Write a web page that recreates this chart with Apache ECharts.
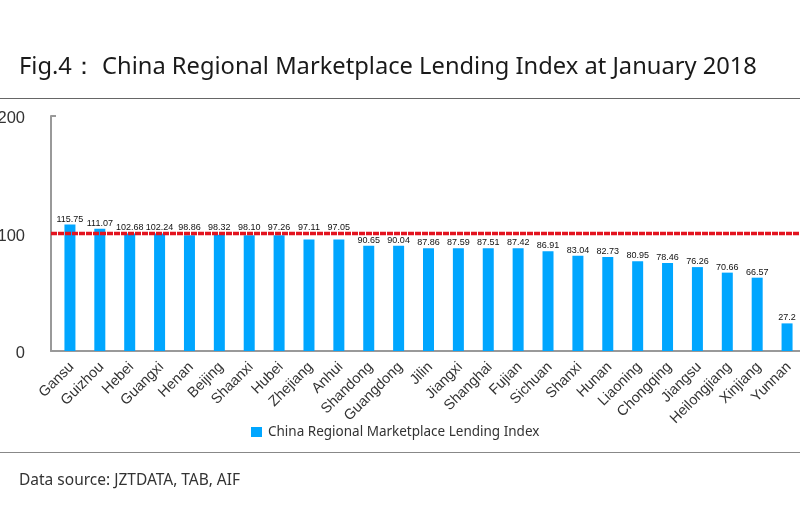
<!DOCTYPE html>
<html lang="en">

<head>
    <meta charset="UTF-8">
    <title>China Regional Marketplace Lending Index</title>
    <script type="text/javascript" src="https://cdn.jsdelivr.net/npm/echarts@6/dist/echarts.min.js"></script>
    <style>
        html, body {
            margin: 0;
            background-color: #fff;
            overflow: hidden;
        }
    </style>
</head>

<body>
    <div style="width: 800px; height: 529px" id="container"></div>
</body>
<script>
    var dom = document.getElementById("container");
    var myChart = echarts.init(dom);

    let categories = ['Gansu', 'Guizhou', 'Hebei', 'Guangxi', 'Henan', 'Beijing', 'Shaanxi', 'Hubei', 'Zhejiang', 'Anhui',
        'Shandong', 'Guangdong', 'Jilin', 'Jiangxi', 'Shanghai', 'Fujian', 'Sichuan', 'Shanxi', 'Hunan', 'Liaoning',
        'Chongqing', 'Jiangsu', 'Heilongjiang', 'Xinjiang', 'Yunnan'];
    // printed numbers, as they stand above the bars
    let printedValues = ['115.75', '111.07', '102.68', '102.24', '98.86', '98.32', '98.10', '97.26', '97.11', '97.05',
        '90.65', '90.04', '87.86', '87.59', '87.51', '87.42', '86.91', '83.04', '82.73', '80.95',
        '78.46', '76.26', '70.66', '66.57', '27.2'];
    // bar heights measured against the axis: in the source they sit a bit below the printed numbers
    let barHeights = [107.6, 104, 100, 100, 98.5, 99, 98.5, 98.5, 95, 95,
        89.5, 89.5, 87.5, 87.5, 87.5, 87.5, 85, 81, 80, 76.3,
        74.8, 71.4, 66.7, 62.4, 23.5];
    let refValue = 100;
    let seriesName = 'China Regional Marketplace Lending Index';

    // labels of bars just under the red line are lifted clear of it
    let barData = barHeights.map(function (v) {
        let gap = (v > 90 && v < refValue) ? 1 + (refValue - v) * 1.175 : 1;
        return { value: v, label: { distance: gap } };
    });

    var option = {
        backgroundColor: '#fff',
        animation: false,
        title: [{
            text: 'Fig.4\uff1a China Regional Marketplace Lending Index at January 2018',
            left: 19,
            top: 50,
            padding: 0,
            textStyle: {
                fontFamily: 'Noto Sans',
                fontSize: 23.7,
                lineHeight: 34,
                fontWeight: 'normal',
                color: '#1a1a1a'
            }
        }, {
            text: 'Data source: JZTDATA, TAB, AIF',
            left: 19,
            top: 472,
            padding: 0,
            textStyle: {
                fontFamily: 'Noto Sans',
                fontSize: 15.5,
                lineHeight: 18,
                fontWeight: 'normal',
                color: '#333'
            }
        }],
        legend: {
            data: [seriesName],
            left: 251,
            top: 425,
            padding: 0,
            itemWidth: 11,
            itemHeight: 10,
            itemGap: 6,
            icon: 'rect',
            textStyle: {
                fontFamily: 'Noto Sans',
                fontSize: 13.5,
                color: '#333',
                padding: [0, 0, 0, 1]
            }
        },
        graphic: [{
            type: 'line',
            shape: { x1: 0, y1: 98.5, x2: 800, y2: 98.5 },
            style: { stroke: '#666', lineWidth: 1 }
        }, {
            type: 'line',
            shape: { x1: 0, y1: 452.5, x2: 800, y2: 452.5 },
            style: { stroke: '#888', lineWidth: 1 }
        }],
        grid: [
            // bars start a few px to the right of the y axis
            { left: 55, right: -2, top: 116, height: 235, outerBoundsMode: 'none' },
            { left: 51, right: 0, top: 116, height: 235, outerBoundsMode: 'none' }
        ],
        xAxis: [{
            type: 'category',
            gridIndex: 0,
            data: categories,
            axisLine: { show: false },
            axisTick: { show: false },
            axisLabel: {
                interval: 0,
                rotate: 45,
                margin: 12,
                fontFamily: 'Liberation Sans',
                fontSize: 14.5,
                color: '#333',
                formatter: '{cat|{value}}',
                rich: {
                    cat: {
                        fontFamily: 'Liberation Sans',
                        fontSize: 14.5,
                        color: '#333',
                        padding: [5, 0, 0, 0]
                    }
                }
            }
        }, {
            type: 'value',
            gridIndex: 1,
            min: 0,
            max: 1,
            axisLine: { show: true, lineStyle: { color: '#999', width: 2 } },
            axisTick: { show: false },
            axisLabel: { show: false },
            splitLine: { show: false }
        }],
        yAxis: [{
            type: 'value',
            gridIndex: 0,
            min: 0,
            max: 200,
            show: false
        }, {
            type: 'value',
            gridIndex: 1,
            min: 0,
            max: 200,
            interval: 100,
            axisLine: { show: true, lineStyle: { color: '#999', width: 2 } },
            axisTick: { show: true, inside: true, length: 5, lineStyle: { color: '#999', width: 2 } },
            splitLine: { show: false },
            axisLabel: {
                margin: 26,
                fontFamily: 'Liberation Sans',
                fontSize: 16.5,
                color: '#333',
                formatter: '{tick|{value}}',
                rich: {
                    tick: {
                        fontFamily: 'Liberation Sans',
                        fontSize: 16.5,
                        color: '#333',
                        padding: [5, 0, 0, 0]
                    }
                }
            }
        }],
        series: [{
            name: seriesName,
            type: 'bar',
            xAxisIndex: 0,
            yAxisIndex: 0,
            data: barData,
            barWidth: 11,
            itemStyle: { color: '#00a6ff' },
            label: {
                show: true,
                position: 'top',
                fontFamily: 'Liberation Sans',
                fontSize: 9,
                color: '#111',
                formatter: function (params) {
                    return printedValues[params.dataIndex];
                }
            }
        }, {
            name: 'ref',
            type: 'line',
            xAxisIndex: 1,
            yAxisIndex: 1,
            data: [[0, refValue], [1, refValue]],
            symbol: 'none',
            z: 5,
            lineStyle: { color: '#e3131f', width: 3.5, type: [6, 1] }
        }]
    };
    if (option && typeof option === 'object') {
        myChart.setOption(option);
    }
</script>

</html>
